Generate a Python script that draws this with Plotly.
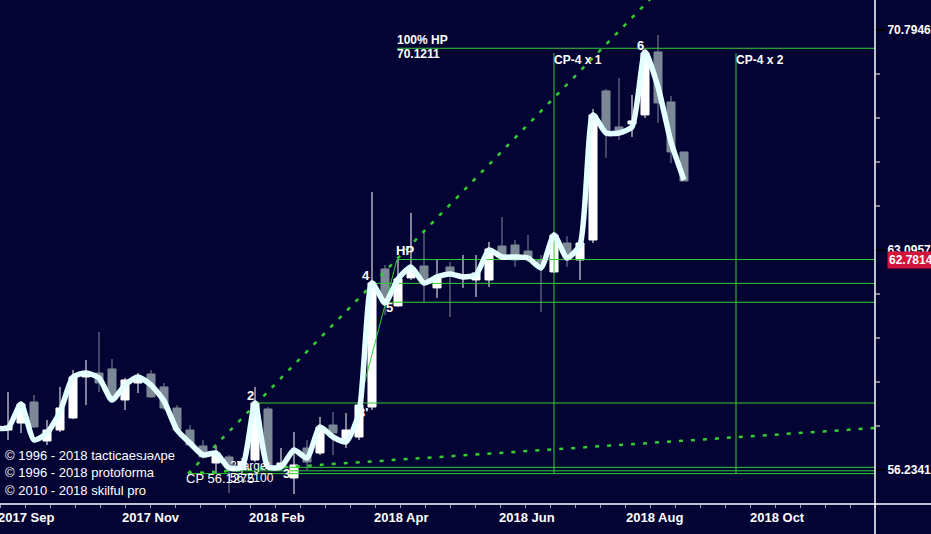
import math
import plotly.graph_objects as go

# ---------------- data (weekly bars, index = bar number) ----------------
bar_idx = list(range(53))
opens = [57.424, 57.634, 58.272, 57.094, 57.424, 57.786, 59.040, 59.163, 59.287, 58.333,
         58.854, 59.132, 58.732, 58.089, 57.424, 56.945, 56.441, 56.618, 56.234, 56.529,
         58.058, 56.352, 55.999, 56.886, 56.737, 57.574, 57.124, 57.214, 58.119, 62.474,
         61.276, 62.181, 62.572, 61.856, 62.539, 62.213, 62.115, 62.115, 63.229, 63.262,
         63.063, 62.768, 62.375, 63.327, 62.768, 63.427, 68.573, 67.293, 67.399, 67.717,
         69.987, 68.178, 66.417]
highs = [58.577, 58.272, 58.484, 57.725, 58.732, 59.256, 59.567, 60.446, 59.598, 59.009,
         59.163, 59.256, 58.854, 58.180, 57.574, 57.124, 56.945, 56.678, 56.588, 58.732,
         58.119, 56.886, 57.364, 57.124, 57.816, 57.967, 57.937, 58.211, 65.040, 62.604,
         62.801, 64.330, 63.760, 62.768, 62.702, 62.931, 62.931, 63.360, 64.196, 63.427,
         63.593, 62.931, 63.693, 63.560, 63.427, 67.930, 68.645, 69.041, 68.429, 70.024,
         70.610, 68.393, 66.417]
lows = [57.124, 57.333, 57.484, 56.975, 57.364, 57.755, 58.180, 58.577, 58.272, 58.028,
        58.546, 58.395, 58.028, 57.364, 56.916, 56.559, 56.146, 55.561, 56.146, 56.470,
        56.293, 56.234, 55.532, 56.234, 56.678, 56.678, 56.886, 57.124, 58.028, 60.987,
        61.244, 62.115, 61.404, 61.532, 60.923, 61.856, 61.564, 61.888, 62.833, 62.539,
        62.702, 61.083, 62.342, 62.539, 62.115, 63.327, 66.210, 66.836, 66.941, 67.611,
        67.434, 66.036, 65.417]
closes = [57.545, 58.211, 57.514, 57.424, 58.089, 59.040, 59.132, 58.854, 58.333, 58.947,
          58.947, 58.426, 58.089, 57.424, 56.975, 56.618, 56.737, 56.293, 56.470, 58.241,
          56.352, 56.441, 56.382, 56.470, 57.514, 57.333, 57.424, 58.180, 62.016, 61.372,
          62.148, 62.507, 62.115, 62.181, 62.342, 62.278, 62.342, 63.129, 62.898, 62.768,
          62.866, 62.637, 63.593, 62.833, 63.327, 67.717, 67.152, 67.152, 67.505, 69.951,
          68.142, 66.417, 65.417]

# smoothed close line
line_idx = list(range(-1, 53))
line_vals = [57.484, 57.484, 58.211, 57.124, 57.333, 57.967, 59.040, 59.163, 59.009, 58.333,
             58.793, 59.040, 58.793, 58.302, 57.424, 57.034, 56.678, 56.737, 56.293, 56.323,
             58.241, 56.323, 56.323, 56.826, 56.588, 57.514, 57.214, 57.064, 57.937, 62.016,
             61.372, 62.148, 62.539, 62.016, 62.213, 62.310, 62.213, 62.278, 63.096, 62.866,
             62.866, 62.833, 62.507, 63.593, 62.833, 63.262, 67.717, 67.081, 67.081, 67.293,
             69.987, 68.717, 66.766, 65.451]

# pattern points (bar index, price)
cp_point = (13.85, 56.1275)
target_price = 56.2100
up_fan_end = (52.0, 73.27)          # dotted line CP -> through point 2
low_fan_end = (70.0, 57.57)         # shallow dotted line from CP
leg_3p_hp = [(26.9, 58.06), (29.92, 62.7814)]

# horizontal levels: (start bar, price)
levels = [
    (29.92, 70.1211),   # 100% HP
    (29.92, 62.7814),   # HP
    (28.0, 62.003),     # point 4
    (29.0, 61.394),     # point 5
    (19.0, 58.241),     # point 2
    (21.1, 56.313),
    (17.1, 56.2100),    # target
    (13.85, 56.1275),   # CP
]
vlines = [(42.0, "CP-4 x 1"), (56.0, "CP-4 x 2")]
vline_top, vline_bottom = 69.94, 56.13

point_labels = [("2", 18.62, 58.484), ("3", 21.46, 56.117), ("3'", 27.31, 57.937),
                ("4", 27.54, 62.245), ("HP", 30.54, 63.063), ("5", 29.31, 61.212),
                ("6", 48.62, 70.209)]

y_ticks = [56.2341, 63.0957, 70.7946]
y_minor = [57.544, 58.884, 60.256, 61.660, 64.565, 66.069, 67.608, 69.183]
last_price = 62.7814

x_label_pos = [1.385, 11.0, 20.7, 30.2, 39.9, 49.7, 59.2]
x_label_text = ["2017 Sep", "2017 Nov", "2018 Feb", "2018 Apr", "2018 Jun", "2018 Aug", "2018 Oct"]

copyright_lines = ["© 1996 - 2018 tacticaesɹəʌpe", "© 1996 - 2018 protoforma", "© 2010 - 2018 skilful pro"]

# ---------------- style ----------------
BG = "#040434"
GREEN = "#33cc33"
GRAY = "#7c8896"
LINE = "#e4ffff"
SANS = "Liberation Sans, Arial"

L = math.log10

fig = go.Figure()

for x0, y0 in levels:
    fig.add_trace(go.Scatter(x=[x0, 70], y=[y0, y0], mode="lines",
                             line=dict(color=GREEN, width=1), hoverinfo="skip"))
for xv, _ in vlines:
    fig.add_trace(go.Scatter(x=[xv, xv], y=[vline_top, vline_bottom], mode="lines",
                             line=dict(color=GREEN, width=1), hoverinfo="skip"))

fig.add_trace(go.Scatter(x=[cp_point[0], up_fan_end[0]], y=[cp_point[1], up_fan_end[1]], mode="lines",
                         line=dict(color=GREEN, width=2.5, dash="4px,8px")))
fig.add_trace(go.Scatter(x=[cp_point[0], low_fan_end[0]], y=[cp_point[1], low_fan_end[1]], mode="lines",
                         line=dict(color=GREEN, width=2.5, dash="4px,8px")))
fig.add_trace(go.Scatter(x=[p[0] for p in leg_3p_hp], y=[p[1] for p in leg_3p_hp], mode="lines",
                         line=dict(color=GREEN, width=1)))

fig.add_trace(go.Candlestick(
    x=bar_idx, open=opens, high=highs, low=lows, close=closes,
    increasing=dict(fillcolor="white", line=dict(color="white", width=1)),
    decreasing=dict(fillcolor=GRAY, line=dict(color=GRAY, width=1)),
    whiskerwidth=0))

fig.add_trace(go.Scatter(x=line_idx, y=line_vals, mode="lines",
                         line=dict(color=LINE, width=5.5, shape="spline", smoothing=0.6)))

ann = []
for t, xx, yy in point_labels:
    ann.append(dict(x=xx, y=L(yy), text="<b>%s</b>" % t, showarrow=False,
                    font=dict(family=SANS, size=13, color="white"),
                    xanchor="center", yanchor="middle"))
ann.append(dict(x=levels[0][0], y=L(levels[0][1]), text="<b>100% HP</b>", showarrow=False,
                font=dict(family=SANS, size=12, color="white"),
                xanchor="left", yanchor="bottom", yshift=-1, xshift=-2))
ann.append(dict(x=levels[0][0], y=L(levels[0][1]), text="<b>%.4f</b>" % levels[0][1], showarrow=False,
                font=dict(family=SANS, size=12, color="white"),
                xanchor="left", yanchor="top", yshift=3, xshift=-2))
for xv, t in vlines:
    ann.append(dict(x=xv, y=L(vline_top), text="<b>%s</b>" % t, showarrow=False,
                    font=dict(family=SANS, size=12, color="white"),
                    xanchor="left", yanchor="top", xshift=-2, yshift=2))
ann.append(dict(x=cp_point[0], y=L(55.999), text="CP %.4f" % cp_point[1], showarrow=False,
                font=dict(family=SANS, size=13, color="white"),
                xanchor="left", yanchor="middle", xshift=-4))
ann.append(dict(x=17.23, y=L(56.35), text="2Target", showarrow=False,
                font=dict(family=SANS, size=12, color="white"),
                xanchor="left", yanchor="middle", xshift=-4))
ann.append(dict(x=17.23, y=L(55.999), text="56.2100", showarrow=False,
                font=dict(family=SANS, size=12, color="white"),
                xanchor="left", yanchor="middle", xshift=-4))
for k, t in enumerate(copyright_lines):
    ann.append(dict(x=5 / 875, y=1 - (455 + 17.5 * k) / 504, xref="paper", yref="paper",
                    text=t, showarrow=False, xanchor="left", yanchor="middle", xshift=-2,
                    font=dict(family=SANS, size=13, color="white")))
ann.append(dict(x=1, y=L(last_price), xref="paper", yref="y", text="<b>%.4f</b>" % last_price,
                showarrow=False, xanchor="left", yanchor="middle", xshift=12,
                bgcolor="#d4143c", borderpad=1,
                font=dict(family=SANS, size=12, color="white")))
for p, t in zip(x_label_pos, x_label_text):
    ann.append(dict(x=p, y=0, yref="paper", text="<b>%s</b>" % t, showarrow=False,
                    xanchor="center", yanchor="top", yshift=-4,
                    font=dict(family="Liberation Sans Narrow, Arial Narrow, " + SANS, size=13, color="white")))

# small unlabeled ticks along the time axis (every 25 px of the plot width)
x_minor_ticks = [(25 * k - 8) / 13 for k in range(36)]

fig.update_layout(
    width=931, height=534, margin=dict(l=0, r=56, t=0, b=30),
    paper_bgcolor=BG, plot_bgcolor=BG, showlegend=False,
    boxgap=0.38, boxgroupgap=0,
    annotations=ann,
    xaxis=dict(range=[-8 / 13, 867 / 13], showgrid=False, zeroline=False, showticklabels=False,
               tickvals=x_minor_ticks, ticks="outside", ticklen=3, tickcolor="#9a9ab0", tickwidth=1,
               rangeslider=dict(visible=False), fixedrange=True),
    yaxis=dict(type="log", range=[1.742273, 1.856818], side="right", showgrid=False, zeroline=False,
               tickvals=y_ticks, ticktext=["<b>%.4f</b>" % v for v in y_ticks],
               ticks="outside", ticklen=9, tickcolor="black", tickwidth=2,
               tickfont=dict(family=SANS, size=12, color="white"),
               minor=dict(tickvals=y_minor, ticks="outside", ticklen=4, tickcolor="#888888"),
               fixedrange=True),
    shapes=[
        dict(type="line", xref="paper", yref="paper", x0=1, x1=1, y0=-0.07, y1=1,
             line=dict(color="white", width=1.5)),
        dict(type="line", xref="paper", yref="paper", x0=0, x1=1.07, y0=0, y1=0,
             line=dict(color="white", width=1.5)),
    ],
)

fig.write_html("out.html", config={"displayModeBar": False},
               post_script="document.body.style.margin='0';document.body.style.overflow='hidden';")
